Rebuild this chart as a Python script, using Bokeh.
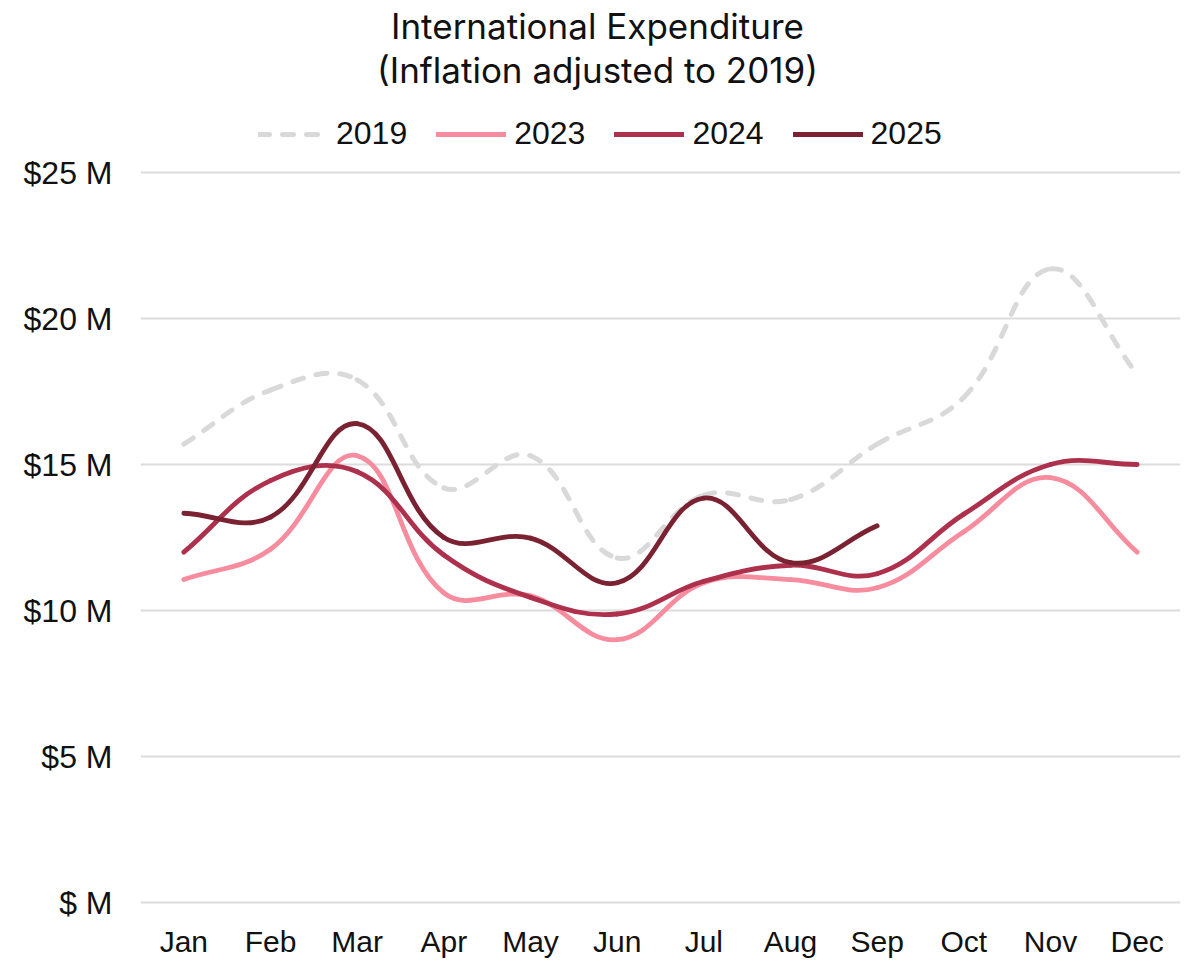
import math
from bokeh.plotting import figure
from bokeh.models import (Range1d, FixedTicker, Legend, LegendItem, Label, ColumnDataSource)
from bokeh.embed import file_html
from bokeh.resources import INLINE

# ---------------- data ----------------
months = ["Jan", "Feb", "Mar", "Apr", "May", "Jun", "Jul", "Aug", "Sep", "Oct", "Nov", "Dec"]
y2019 = [15.7, 17.55, 17.9, 14.2, 15.3, 11.8, 13.95, 13.8, 15.7, 17.3, 21.7, 18.1]
y2023 = [11.06, 12.1, 15.3, 10.6, 10.5, 9.0, 10.95, 11.06, 10.78, 12.7, 14.55, 12.0]
y2024 = [12.0, 14.45, 14.75, 11.9, 10.45, 9.88, 11.0, 11.55, 11.26, 13.3, 15.0, 15.0]
y2025 = [13.33, 13.2, 16.4, 12.5, 12.48, 10.95, 13.85, 11.64, 12.9]
y_ticks = [0, 5, 10, 15, 20, 25]
y_tick_labels = ["$ M", "$5 M", "$10 M", "$15 M", "$20 M", "$25 M"]
title_text = "International Expenditure"
subtitle_text = "(Inflation adjusted to 2019)"

series = [
    ("2019", y2019, "#d9d9d9", True),
    ("2023", y2023, "#f68c9d", False),
    ("2024", y2024, "#ad314d", False),
    ("2025", y2025, "#7a2232", False),
]

# ---------------- layout ----------------
# The frame reaches the top of the page so that title and legend (drawn inside
# it, above the $25 M gridline) are not clipped.
W, H = 1188, 960
BL, BR, BT, BB = 140, 8, 0, 56
FW, FH = W - BL - BR, H - BT - BB
X0, X1 = -0.5, 11.5
PX_X = FW / (X1 - X0)
PX_Y = 29.2                      # pixels per $1 M
Y0 = -2 / PX_Y
Y1 = Y0 + FH / PX_Y


def page_y_to_data(py):
    return Y0 + (H - BB - py) / PX_Y


FONT = "Liberation Sans"
TFONT = "Inter"

p = figure(width=W, height=H, output_backend="svg", toolbar_location=None,
           x_range=Range1d(X0, X1), y_range=Range1d(Y0, Y1),
           title_location=None, min_border_left=BL, min_border_right=BR,
           min_border_top=BT, min_border_bottom=BB)
p.outline_line_color = None
p.background_fill_color = "white"
p.border_fill_color = "white"

p.xgrid.grid_line_color = None
p.ygrid.grid_line_color = "#dcdcdc"
p.ygrid.grid_line_width = 2
p.ygrid.ticker = FixedTicker(ticks=y_ticks)

p.yaxis.ticker = FixedTicker(ticks=y_ticks)
p.yaxis.major_label_overrides = {t: l for t, l in zip(y_ticks, y_tick_labels)}
p.xaxis.ticker = FixedTicker(ticks=list(range(len(months))))
p.xaxis.major_label_overrides = {i: m for i, m in enumerate(months)}
for ax in (p.xaxis, p.yaxis):
    ax.axis_line_color = None
    ax.major_tick_line_color = None
    ax.minor_tick_line_color = None
    ax.major_label_text_font = FONT
    ax.major_label_text_color = "#111111"
p.yaxis.major_label_text_font_size = "32px"
p.xaxis.major_label_text_font_size = "30px"
p.yaxis.major_label_standoff = 22
p.xaxis.major_label_standoff = 14


def spline_segments(ys, t=0.4, sx=PX_X, sy=PX_Y):
    """Chart.js style spline control points (computed in screen-like space)."""
    n = len(ys)
    px = [i * sx for i in range(n)]
    py = [v * sy for v in ys]
    prev_cp, next_cp = [], []
    for i in range(n):
        a = max(i - 1, 0)
        b = min(i + 1, n - 1)
        d01 = math.hypot(px[i] - px[a], py[i] - py[a])
        d12 = math.hypot(px[b] - px[i], py[b] - py[i])
        tot = d01 + d12
        s01 = d01 / tot if tot else 0
        s12 = d12 / tot if tot else 0
        fa, fb = t * s01, t * s12
        dx, dy = px[b] - px[a], py[b] - py[a]
        prev_cp.append(((px[i] - fa * dx) / sx, (py[i] - fa * dy) / sy))
        next_cp.append(((px[i] + fb * dx) / sx, (py[i] + fb * dy) / sy))
    d = dict(x0=[], y0=[], x1=[], y1=[], cx0=[], cy0=[], cx1=[], cy1=[])
    for i in range(n - 1):
        d["x0"].append(i); d["y0"].append(ys[i])
        d["x1"].append(i + 1); d["y1"].append(ys[i + 1])
        d["cx0"].append(next_cp[i][0]); d["cy0"].append(next_cp[i][1])
        d["cx1"].append(prev_cp[i + 1][0]); d["cy1"].append(prev_cp[i + 1][1])
    return d


items = []
for name, ys, color, dashed in series:
    src = ColumnDataSource(spline_segments(ys))
    kw = dict(line_color=color, line_width=5 if dashed else 4.8, line_cap="round")
    if dashed:
        kw["line_dash"] = "11 13"
    r = p.bezier(x0="x0", y0="y0", x1="x1", y1="y1", cx0="cx0", cy0="cy0",
                 cx1="cx1", cy1="cy1", source=src, **kw)
    items.append(LegendItem(label=name, renderers=[r]))

LEG_H = 34
legend_bottom = (H - BB) - 135 - LEG_H / 2      # frame-relative screen y
legend = Legend(items=items, orientation="horizontal",
                location=(118, legend_bottom),
                glyph_width=70, glyph_height=LEG_H, label_standoff=8, spacing=29,
                padding=0, margin=0, border_line_color=None, background_fill_alpha=0,
                label_text_font=FONT, label_text_font_size="32px",
                label_text_color="#111111", label_height=LEG_H)
p.add_layout(legend, "center")

# titles, centred on the whole figure (not on the plot frame)
cx = X0 + (W / 2 + 3 - BL) / PX_X
for txt, page_y in ((title_text, 25), (subtitle_text, 69)):
    p.add_layout(Label(x=cx, y=page_y_to_data(page_y), text=txt,
                       text_align="center", text_baseline="middle",
                       text_font=TFONT, text_font_size="35px", text_color="#111111"))

open("out.html", "w").write(file_html(p, INLINE))
